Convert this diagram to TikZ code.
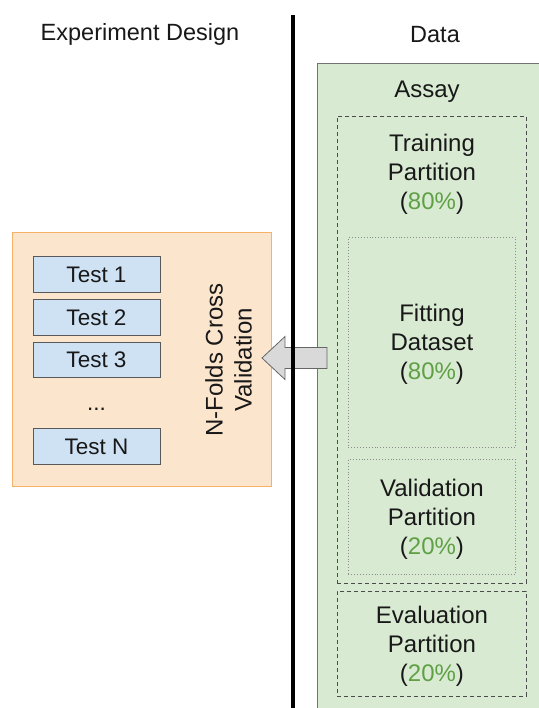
\documentclass[tikz,border=0pt]{standalone}
\usepackage{fontspec}
\setmainfont{Liberation Sans}
\usetikzlibrary{positioning,calc}
\definecolor{assaygreen}{HTML}{D9EAD3}
\definecolor{pctgreen}{HTML}{5FA045}
\definecolor{designorange}{HTML}{FCE5CD}
\definecolor{designedge}{HTML}{F6B26B}
\definecolor{testblue}{HTML}{CFE2F3}
\definecolor{inkgray}{HTML}{181818}
\newcommand{\pct}[1]{(\textcolor{pctgreen}{#1\%})}

\begin{document}
\begin{tikzpicture}[x=1pt,y=-1pt,
		header/.style={font=\fontsize{23.5}{28}\selectfont, text=inkgray, yshift=-1.5pt},
		label text/.style={font=\fontsize{24}{29}\selectfont, text=inkgray, align=center, yshift=-2pt},
		plainbox/.style={rectangle, inner sep=0pt, anchor=north west},
		assaybox/.style={plainbox, draw=black!55, fill=assaygreen, line width=0.8pt},
		partition/.style={plainbox, draw=black!70, dash pattern=on 4pt off 3pt, line width=0.9pt},
		subset/.style={plainbox, draw=black!45, dotted, line width=0.9pt},
		designbox/.style={plainbox, draw=designedge, fill=designorange, line width=0.8pt},
		testbox/.style={rectangle, inner sep=0pt, draw=black!65, fill=testblue, line width=0.8pt,
			minimum width=127pt, minimum height=35.5pt, font=\fontsize{22.5}{27}\selectfont, text=inkgray},
		blockarrow/.style={draw=black!60, fill=black!15, line width=0.8pt, line join=miter}
	]
	\useasboundingbox (0,0) rectangle (538,708);

	\node[header] (design) at (140,33) {Experiment Design};
	\node[header] (data) at (435,33) {Data};

	% data side
	\node[assaybox, minimum width=230pt, minimum height=655pt] (assay) at (317,63) {};
	\node[label text] (assaytitle) at (427,90) {Assay};
	\node[partition, minimum width=189pt, minimum height=467pt] (training) at (337,116) {};
	\node[label text] (trainingtext) at (432,172) {Training\\Partition\\\pct{80}};
	\node[subset, minimum width=167pt, minimum height=210pt] (fitting) at (348,237) {};
	\node[label text] (fittingtext) at (fitting.center) {Fitting\\Dataset\\\pct{80}};
	\node[subset, minimum width=167pt, minimum height=115pt] (validation) at (348,459) {};
	\node[label text] (validationtext) at (validation.center) {Validation\\Partition\\\pct{20}};
	\node[partition, minimum width=189pt, minimum height=105pt] (evaluation) at (337,591) {};
	\node[label text] (evaluationtext) at (evaluation.center) {Evaluation\\Partition\\\pct{20}};

	% design side
	\node[designbox, minimum width=259pt, minimum height=254pt] (design box) at (12,232) {};
	\node[testbox] (test1) at (96.5,274.5) {Test 1};
	\node[testbox] (test2) at (96.5,317.5) {Test 2};
	\node[testbox] (test3) at (96.5,360) {Test 3};
	\node[font=\fontsize{22.5}{27}\selectfont, text=inkgray, inner sep=0pt] (dots) at (96.5,409) {...};
	\node[testbox] (testN) at (96.5,446.5) {Test N};
	\node[label text, rotate=90, yshift=2pt] (nfolds) at (230.5,358) {N-Folds Cross\\Validation};

	% arrow from the data into the folds
	\coordinate (tail) at (327,358);
	\coordinate (headbase) at (285,358);
	\coordinate (tip) at (262,358);
	\draw[blockarrow] ($(tail)+(0,-10.5)$) -- ($(headbase)+(0,-10.5)$) -- ($(headbase)+(0,-21.5)$)
		-- (tip) -- ($(headbase)+(0,21.5)$) -- ($(headbase)+(0,10.5)$) -- ($(tail)+(0,10.5)$) -- cycle;

	\coordinate (divtop) at (293,15);
	\coordinate (divbottom) at (293,710);
	\draw[line width=3.2pt] (divtop) -- (divbottom);
\end{tikzpicture}
\end{document}
